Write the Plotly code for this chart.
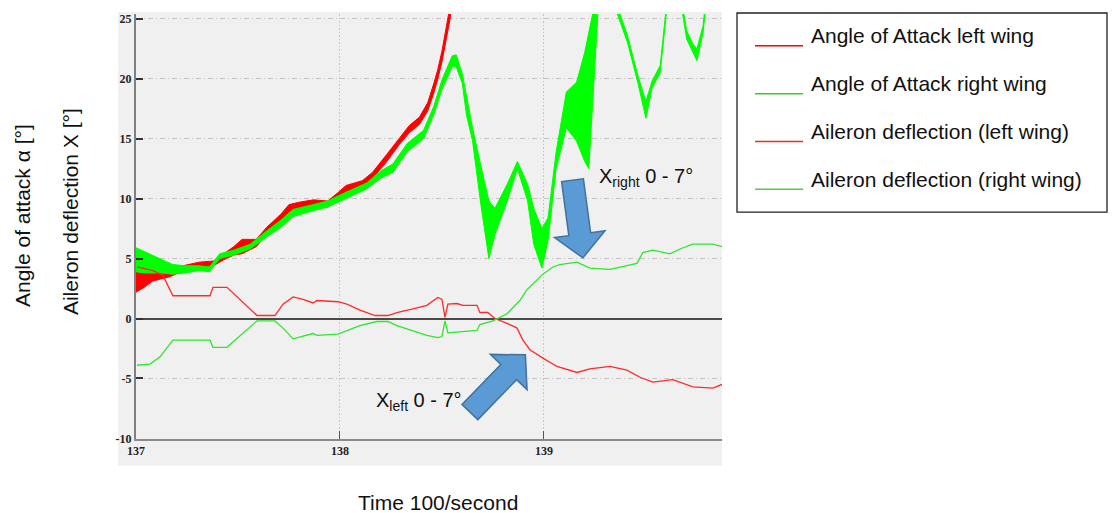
import math
import plotly.graph_objects as go

# ---------------- data ----------------
aoa_left_t = [137.00, 137.04, 137.08, 137.12, 137.17, 137.23, 137.31, 137.38, 137.43, 137.48,
              137.52, 137.59, 137.64, 137.71, 137.75, 137.80, 137.87, 137.94, 137.99, 138.03,
              138.11, 138.16, 138.23, 138.29, 138.34, 138.39, 138.43, 138.46, 138.48, 138.50,
              138.54, 138.56]
aoa_left_lo = [2.2, 2.6, 3.1, 3.3, 3.5, 4.0, 4.3, 4.4, 4.9, 5.3,
               5.4, 6.0, 7.0, 8.1, 8.9, 9.1, 9.3, 9.3, 9.9, 10.6,
               10.9, 11.7, 13.1, 14.5, 15.5, 16.2, 17.3, 18.8, 20.0, 21.4,
               25.0, 28.0]
aoa_left_hi = [4.3, 4.2, 4.1, 4.0, 4.1, 4.4, 4.7, 4.8, 5.4, 6.0,
               6.6, 6.6, 7.6, 8.7, 9.5, 9.7, 9.9, 9.8, 10.5, 11.1,
               11.5, 12.2, 13.7, 15.0, 16.1, 16.8, 18.0, 19.6, 20.8, 22.3,
               26.0, 28.0]

aoa_right_t = [137.00, 137.04, 137.08, 137.12, 137.18, 137.24, 137.31, 137.36, 137.41, 137.48,
               137.56, 137.64, 137.71, 137.77, 137.85, 137.94, 138.00, 138.08, 138.13, 138.20,
               138.26, 138.33, 138.41, 138.46, 138.50, 138.55, 138.57, 138.60, 138.62, 138.65,
               138.69, 138.73, 138.76, 138.82, 138.87, 138.92, 138.95, 138.99, 139.02, 139.06,
               139.11, 139.16, 139.20, 139.22, 139.24, 139.27, 139.32, 139.36, 139.41, 139.46,
               139.50, 139.53, 139.57, 139.60, 139.64, 139.68, 139.70, 139.73, 139.75, 139.78,
               139.79, 139.83, 139.873]
aoa_right_lo = [3.9, 3.8, 3.8, 3.8, 3.7, 3.8, 4.0, 3.9, 5.0, 5.3,
                5.8, 6.8, 7.6, 8.5, 8.9, 9.3, 9.8, 10.4, 10.8, 11.7,
                12.2, 13.9, 15.0, 17.0, 19.1, 21.0, 21.0, 19.6, 17.0, 14.8,
                9.6, 5.0, 7.0, 9.8, 12.5, 9.8, 6.2, 4.2, 6.5, 12.5,
                15.9, 14.8, 13.1, 12.5, 18.1, 27.0, 28.0, 25.4, 23.0, 19.7,
                16.7, 19.2, 20.5, 25.4, 28.0, 25.4, 23.3, 22.2, 21.5, 23.8,
                25.4, 28.0, 28.0]
aoa_right_hi = [5.9, 5.6, 5.3, 5.0, 4.5, 4.4, 4.4, 4.3, 5.4, 5.7,
                6.2, 7.3, 8.2, 9.1, 9.4, 9.8, 10.3, 10.9, 11.3, 12.3,
                12.9, 14.6, 15.7, 17.7, 19.9, 21.9, 22.0, 20.4, 18.6, 15.9,
                12.8, 9.8, 9.2, 11.2, 13.1, 11.2, 9.2, 7.5, 8.4, 13.9,
                18.9, 19.7, 22.2, 23.9, 25.3, 28.0, 28.0, 26.0, 23.6, 20.3,
                18.1, 19.8, 21.1, 26.0, 28.0, 26.0, 24.0, 22.9, 22.5, 24.4,
                26.0, 28.0, 28.0]

ail_left_t = [137.005, 137.083, 137.132, 137.181, 137.363, 137.377, 137.446, 137.593, 137.681, 137.721,
              137.770, 137.819, 137.868, 137.887, 137.990, 138.034, 138.098, 138.172, 138.235, 138.279,
              138.358, 138.426, 138.480, 138.500, 138.515, 138.529, 138.574, 138.603, 138.672, 138.686,
              138.725, 138.760, 138.819, 138.868, 138.897, 138.931, 138.995, 139.064, 139.162, 139.225,
              139.324, 139.407, 139.471, 139.534, 139.632, 139.730, 139.828, 139.873]
ail_left_v = [4.3, 4.0, 3.6, 1.9, 1.9, 2.6, 2.6, 0.25, 0.25, 1.2,
              1.8, 1.6, 1.3, 1.5, 1.4, 1.2, 0.7, 0.25, 0.25, 0.5,
              0.8, 1.1, 1.75, 1.6, 0.1, 1.2, 1.25, 1.1, 1.1, 0.5,
              0.5, 0.0, -0.4, -0.8, -1.8, -2.6, -3.3, -4.0, -4.5, -4.2,
              -4.0, -4.3, -4.9, -5.3, -5.1, -5.7, -5.8, -5.5]

ail_right_t = [137.005, 137.069, 137.118, 137.142, 137.181, 137.363, 137.377, 137.446, 137.593, 137.681,
               137.721, 137.770, 137.868, 137.887, 137.990, 138.098, 138.181, 138.235, 138.279, 138.426,
               138.480, 138.500, 138.515, 138.529, 138.603, 138.672, 138.686, 138.750, 138.819, 138.882,
               138.917, 138.946, 138.995, 139.044, 139.078, 139.162, 139.225, 139.324, 139.407, 139.456,
               139.485, 139.534, 139.618, 139.667, 139.730, 139.828, 139.873]
ail_right_v = [-3.9, -3.8, -3.2, -2.65, -1.8, -1.8, -2.4, -2.4, -0.2, -0.2,
               -0.8, -1.7, -1.25, -1.4, -1.3, -0.6, -0.25, -0.25, -0.6, -1.4,
               -1.6, -1.5, -0.2, -1.2, -1.1, -1.0, -0.5, -0.2, 0.4, 1.5,
               2.4, 2.9, 3.7, 4.3, 4.5, 4.7, 4.2, 4.1, 4.4, 4.6,
               5.5, 5.7, 5.4, 5.8, 6.2, 6.2, 6.0]

legend_labels = ["Angle of Attack left wing", "Angle of Attack right wing",
                 "Aileron deflection (left wing)", "Aileron deflection (right wing)"]
legend_colors = ["#ff0000", "#33cc33", "#e8321e", "#55cc44"]

x_ticks = [137, 138, 139]
y_ticks = [-10, -5, 0, 5, 10, 15, 20, 25]

arrow_tails = [(138.637, -7.80), (139.140, 11.54)]
arrow_tips = [(138.909, -3.03), (139.191, 5.06)]
callout_x = [138.165, 139.262]
callout_y = [-6.89, 11.78]
callout_text = ["X<sub>left</sub> 0 - 7°", "X<sub>right</sub> 0 - 7°"]

# ---------------- layout geometry ----------------
W, H = 1113, 513
PL, PR, PT, PB = 136, 722, 12, 439
X0, X1 = 137.0, 139.873
Y0, Y1 = -10.05, 25.4
SX = (PR - PL) / (X1 - X0)
SY = (PB - PT) / (Y1 - Y0)


def pp(px, py):
    return (px - PL) / (PR - PL), (PB - py) / (PB - PT)


def d2px(x, y):
    return PL + (x - X0) * SX, PB - (y - Y0) * SY


def px2d(px, py):
    return X0 + (px - PL) / SX, Y0 + (PB - py) / SY


fig = go.Figure()

AOA_RED = "#ff0000"
AOA_GREEN = "#00ff00"


def band(t, lo, hi, color):
    fig.add_trace(go.Scatter(
        x=t + t[::-1], y=hi + lo[::-1], mode="lines", fill="toself",
        fillcolor=color, line=dict(color=color, width=1),
        showlegend=False, hoverinfo="skip"))


band(aoa_left_t, aoa_left_lo, aoa_left_hi, AOA_RED)
band(aoa_right_t, aoa_right_lo, aoa_right_hi, AOA_GREEN)

fig.add_trace(go.Scatter(x=ail_left_t, y=ail_left_v, mode="lines",
                         line=dict(color="#ff2a2a", width=1.3), showlegend=False))
fig.add_trace(go.Scatter(x=ail_right_t, y=ail_right_v, mode="lines",
                         line=dict(color="#2ee62e", width=1.3), showlegend=False))

shapes = []
annotations = []

# gray chart panel (includes tick-label area)
gx0, gy0 = pp(118, 466)
gx1, gy1 = pp(722, 10)
shapes.append(dict(type="rect", xref="paper", yref="paper", x0=gx0, y0=gy0, x1=gx1, y1=gy1,
                   fillcolor="#f0f0f0", line=dict(width=0), layer="below"))

# block arrows
for (tx, ty), (hx, hy) in zip(arrow_tails, arrow_tips):
    ax, ay = d2px(tx, ty)
    bx, by = d2px(hx, hy)
    L = math.hypot(bx - ax, by - ay)
    dx, dy = (bx - ax) / L, (by - ay) / L
    nx, ny = -dy, dx
    sw, hw, hl = 11, 25.5, 24
    cx, cy = bx - dx * hl, by - dy * hl
    pts = [(ax + nx * sw, ay + ny * sw), (cx + nx * sw, cy + ny * sw), (cx + nx * hw, cy + ny * hw),
           (bx, by), (cx - nx * hw, cy - ny * hw), (cx - nx * sw, cy - ny * sw),
           (ax - nx * sw, ay - ny * sw)]
    dpts = [px2d(*p) for p in pts]
    path = "M " + " L ".join(f"{x:.5f},{y:.4f}" for x, y in dpts) + " Z"
    shapes.append(dict(type="path", xref="x", yref="y", path=path,
                       fillcolor="#5b9bd5", line=dict(color="#41719c", width=1.5), layer="above"))

for x, y, t in zip(callout_x, callout_y, callout_text):
    annotations.append(dict(x=x, y=y, xref="x", yref="y", text=t, showarrow=False,
                            xanchor="left", yanchor="middle",
                            font=dict(family="Liberation Sans, Arial", size=20, color="#111")))

# legend (drawn manually to match the boxed layout)
lx0, ly0 = pp(737, 211)
lx1, ly1 = pp(1107, 11)
shapes.append(dict(type="rect", xref="paper", yref="paper", x0=lx0, y0=ly0, x1=lx1, y1=ly1,
                   fillcolor="white", line=dict(color="#222", width=1.3)))
for i, (lab, col) in enumerate(zip(legend_labels, legend_colors)):
    sx0, sy = pp(755, 44 + 48 * i)
    sx1, _ = pp(803, 44 + 48 * i)
    shapes.append(dict(type="line", xref="paper", yref="paper", x0=sx0, x1=sx1, y0=sy, y1=sy,
                       line=dict(color=col, width=1.5)))
    tx, ty = pp(809, 34 + 48 * i)
    annotations.append(dict(x=tx, y=ty, xref="paper", yref="paper", text=lab, showarrow=False,
                            xanchor="left", yanchor="middle",
                            font=dict(family="Liberation Sans, Arial", size=21, color="#111")))

# axis titles
for txt, px, py in [("Angle of attack α [°]", 22, 215), ("Aileron deflection X [°]", 70, 211)]:
    ax_, ay_ = pp(px, py)
    annotations.append(dict(x=ax_, y=ay_, xref="paper", yref="paper", text=txt, showarrow=False,
                            textangle=-90, xanchor="center", yanchor="middle",
                            font=dict(family="Liberation Sans, Arial", size=21, color="#111")))
tx_, ty_ = pp(438, 503)
annotations.append(dict(x=tx_, y=ty_, xref="paper", yref="paper", text="Time 100/second",
                        showarrow=False, xanchor="center", yanchor="middle",
                        font=dict(family="Liberation Sans, Arial", size=21, color="#111")))

tickfont = dict(family="Liberation Serif, DejaVu Serif", size=12, color="#222", weight="bold")

fig.update_layout(
    width=W, height=H,
    margin=dict(l=PL, r=W - PR, t=PT, b=H - PB, pad=0),
    paper_bgcolor="white", plot_bgcolor="#f0f0f0",
    showlegend=False,
    shapes=shapes, annotations=annotations,
    xaxis=dict(range=[X0, X1], tickvals=x_ticks, ticktext=[str(v) for v in x_ticks],
               showgrid=True, gridcolor="#c4c4c4", gridwidth=1, griddash="2px,2px,1px,2px",
               zeroline=False, showline=True, linecolor="#8a8a8a", linewidth=2,
               ticks="inside", ticklen=8, tickcolor="#555", tickwidth=1,
               tickfont=tickfont, fixedrange=True),
    yaxis=dict(range=[Y0, Y1], tickvals=y_ticks, ticktext=[str(v) for v in y_ticks],
               showgrid=True, gridcolor="#c4c4c4", gridwidth=1, griddash="5px,3px,1px,3px",
               zeroline=True, zerolinecolor="#4a4a4a", zerolinewidth=1.5,
               showline=True, linecolor="#808080", linewidth=2,
               ticks="inside", ticklen=7, tickcolor="#333", tickwidth=1.5,
               tickfont=tickfont, fixedrange=True),
)

fig.write_html("out.html", config={"displayModeBar": False},
               post_script="document.body.style.margin='0';document.body.style.padding='0';"
                           "document.body.style.overflow='hidden';")
